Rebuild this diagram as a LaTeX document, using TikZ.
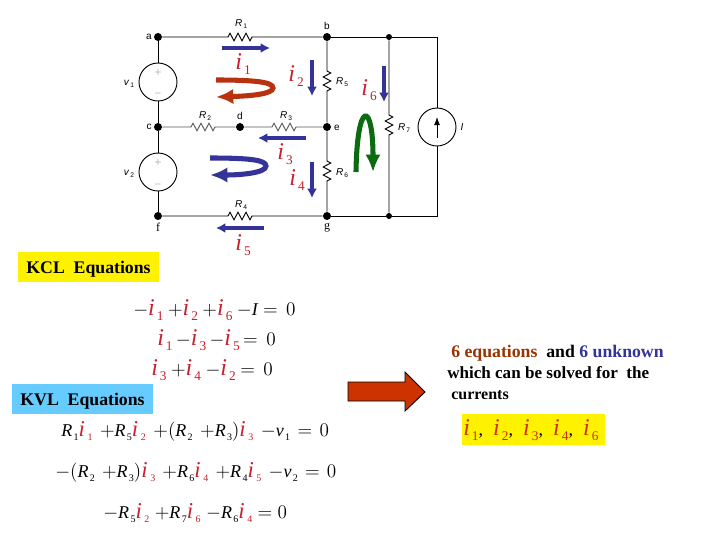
\documentclass[tikz,border=0pt]{standalone}
\usepackage{fontspec}
\setmainfont{Liberation Serif}
\setsansfont{Liberation Sans}
\usetikzlibrary{decorations.pathmorphing,arrows.meta}
\definecolor{curred}{HTML}{C8202C}
\definecolor{curblue}{HTML}{333399}
\definecolor{loopred}{HTML}{B83210}
\definecolor{loopgreen}{HTML}{0B6B10}
\definecolor{kvlblue}{HTML}{66CCFF}
\definecolor{arrowred}{HTML}{CC3300}
\definecolor{wordred}{HTML}{993300}
\tikzset{
  >=latex,
  wire/.style={line width=.7pt},
  greywire/.style={line width=.7pt,black!65},
  res/.style={decoration={zigzag,segment length=6pt,amplitude=2.8pt}},
  junction/.style={circle,fill=black,inner sep=0pt,minimum size=6pt},
  source/.style={circle,draw,line width=.7pt,fill=white,inner sep=0pt,minimum size=28.5pt},
  lab/.style={font=\sffamily\fontsize{7.5}{8}\selectfont,inner sep=0pt},
  sign/.style={font=\fontsize{6}{6}\selectfont,inner sep=0pt,black!55},
  curarrow/.style={curblue,line width=2.6pt,-{Latex[length=7pt,width=7.5pt]}},
  loopline/.style={line width=3.8pt,-{Latex[length=13pt,width=11.5pt]}},
  curlab/.style={inner sep=0pt},
  eqn/.style={font=\fontsize{13.5}{14}\selectfont,inner sep=0pt,anchor=west},
  title/.style={font=\bfseries\fontsize{13.3}{15}\selectfont,inner sep=0pt},
  titlebox/.style={title,text height=15.75pt,text depth=6.75pt,minimum width=106pt},
  para/.style={title,anchor=base west},
}
% current symbols with wide subscripts, large and KVL size
\newcommand{\cur}[1]{\textcolor{curred}{\fontsize{18}{18}\selectfont\textit{i}\kern1.5pt\raisebox{-3.5pt}{\fontsize{10}{10}\selectfont #1}}}
\newcommand{\curk}[1]{\textcolor{curred}{\fontsize{17}{17}\selectfont\textit{i}\kern2pt\raisebox{-3pt}{\fontsize{7.5}{8}\selectfont #1}}}
\newcommand{\sym}[2]{\textit{#1}\raisebox{-3pt}{\fontsize{7.5}{8}\selectfont\kern1pt #2}}
\newcommand{\lbl}[2]{\textit{#1}\raisebox{-1.5pt}{\fontsize{5}{6}\selectfont\kern.8pt #2}}
\begin{document}
\begin{tikzpicture}[x=.75pt,y=-.75pt]
    \useasboundingbox (0,0) rectangle (720,540);
    % circuit
    \node[junction] (a) at (158,37) {};
    \node[junction] (b) at (327,37) {};
    \node[junction,minimum size=4.5pt] (top) at (389,37) {};
    \coordinate (corner) at (437,37);
    \node[junction] (c) at (158,127) {};
    \node[junction] (d) at (240,127) {};
    \node[junction] (e) at (327,127) {};
    \node[junction] (f) at (158,216) {};
    \node[junction] (g) at (327,216) {};
    \node[junction,minimum size=4.5pt] (bot) at (389,216) {};
    \coordinate (cornerb) at (437,216);
    \node[source] (v1) at (158,82) {};
    \node[source] (v2) at (158,172) {};
    \node[source] (I) at (437,127) {};
    \coordinate (R1a) at (228,37); \coordinate (R1b) at (252,37);
    \coordinate (R2a) at (191,127); \coordinate (R2b) at (216,127);
    \coordinate (R3a) at (272,127); \coordinate (R3b) at (297,127);
    \coordinate (R4a) at (228,216); \coordinate (R4b) at (252,216);
    \coordinate (R5a) at (327,71); \coordinate (R5b) at (327,94);
    \coordinate (R6a) at (327,161); \coordinate (R6b) at (327,184);
    \coordinate (R7a) at (389,115); \coordinate (R7b) at (389,138);
    \draw[wire] (a) -- (R1a) decorate[res]{-- (R1b)} -- (b);
    \draw[wire] (b) -- (top) -- (corner) -- (I);
    \draw[wire] (I) -- (cornerb) -- (bot) -- (g);
    \draw[wire] (g) -- (R4b) decorate[res]{-- (R4a)} -- (f);
    \draw[wire] (a) -- (v1);
    \draw[wire] (v1) -- (c);
    \draw[wire] (c) -- (v2);
    \draw[wire] (v2) -- (f);
    \draw[greywire] (c) -- (R2a) decorate[res]{-- (R2b)} -- (d);
    \draw[greywire] (d) -- (R3a) decorate[res]{-- (R3b)} -- (e);
    \draw[wire] (b) -- (R5a) decorate[res]{-- (R5b)} -- (e);
    \draw[wire] (e) -- (R6a) decorate[res]{-- (R6b)} -- (g);
    \draw[wire] (top) -- (R7a) decorate[res]{-- (R7b)} -- (bot);
    \coordinate (Ilo) at (437,138); \coordinate (Ihi) at (437,117);
    \draw[wire,-{Latex[length=6pt,width=4.5pt]}] (Ilo) -- (Ihi);
    \node[sign] (p1) at (158,72) {$+$};
    \node[sign] (m1) at (158,93) {$-$};
    \node[sign] (p2) at (158,162) {$+$};
    \node[sign] (m2) at (158,184) {$-$};
    % circuit labels
    \node[lab] (la) at (149,37) {a};
    \node[lab] (lb) at (327,26) {b};
    \node[lab] (lc) at (149,127) {c};
    \node[lab] (ld) at (240,116) {d};
    \node[lab] (le) at (337,128) {e};
    \node[lab,font=\fontsize{9}{9}\selectfont] (lf) at (158,227) {f};
    \node[lab,font=\fontsize{9}{9}\selectfont] (lg) at (327,228) {g};
    \node[lab] (lR1) at (241,24) {\lbl{R}{1}};
    \node[lab] (lR2) at (205,116) {\lbl{R}{2}};
    \node[lab] (lR3) at (286,116) {\lbl{R}{3}};
    \node[lab] (lR4) at (241,205) {\lbl{R}{4}};
    \node[lab] (lR5) at (342,82) {\lbl{R}{5}};
    \node[lab] (lR6) at (342,173) {\lbl{R}{6}};
    \node[lab] (lR7) at (404,128) {\lbl{R}{7}};
    \node[lab] (lI) at (462,127) {\textit{I}};
    \node[lab] (lv1) at (129,84) {\lbl{v}{1}};
    \node[lab] (lv2) at (129,174) {\lbl{v}{2}};
    % currents
    \coordinate (a1s) at (222,48); \coordinate (a1e) at (270,48);
    \coordinate (a2s) at (312,60); \coordinate (a2e) at (312,96);
    \coordinate (a3s) at (306,138); \coordinate (a3e) at (258,138);
    \coordinate (a4s) at (312,162); \coordinate (a4e) at (312,198);
    \coordinate (a5s) at (264,228); \coordinate (a5e) at (216,228);
    \coordinate (a6s) at (384,66); \coordinate (a6e) at (384,102);
    \draw[curarrow] (a1s) -- (a1e);
    \draw[curarrow] (a2s) -- (a2e);
    \draw[curarrow] (a3s) -- (a3e);
    \draw[curarrow] (a4s) -- (a4e);
    \draw[curarrow] (a5s) -- (a5e);
    \draw[curarrow] (a6s) -- (a6e);
    \node[curlab] (i1) at (243,64) {\cur{1}};
    \node[curlab] (i2) at (296,76) {\cur{2}};
    \node[curlab] (i3) at (285,154) {\cur{3}};
    \node[curlab] (i4) at (297,180) {\cur{4}};
    \node[curlab] (i5) at (243,245) {\cur{5}};
    \node[curlab] (i6) at (369,90) {\cur{6}};
    % loops
    \coordinate (l1s) at (216,80); \coordinate (l1e) at (216,97);
    \coordinate (l2s) at (210,158); \coordinate (l2e) at (210,175);
    \coordinate (l3s) at (356,172); \coordinate (l3e) at (373,172);
    \draw[loopline,loopred] (l1s) .. controls (255,80) and (273,82) .. (273,88) .. controls (273,94) and (250,96) .. (l1e);
    \draw[loopline,curblue] (l2s) .. controls (250,158) and (266,160) .. (266,166) .. controls (266,173) and (240,175) .. (l2e);
    \draw[loopline,loopgreen] (l3s) .. controls (357,100) and (373,100) .. (l3e);
    % KCL
    \node[fill=yellow,titlebox] (kcl) at (88.5,267) {KCL\ \ Equations};
    \node[eqn] (e1) at (133,310) {$-$\cur{1} $+$\cur{2} $+$\cur{6} $-$\textit{I} $=\,0$};
    \node[eqn] (e2) at (157,340) {\spaceskip=2.5pt \cur{1} $-$\cur{3} $-$\cur{5} $=\,0$};
    \node[eqn] (e3) at (151,370) {\cur{3} $+$\cur{4} $-$\cur{2} $=\,0$};
    % KVL
    \node[fill=kvlblue,titlebox] (kvl) at (82.5,399) {KVL\ \ Equations};
    \node[eqn] (e4) at (61,431) {\spaceskip=5.6pt \sym{R}{1}\curk{1} $+$\sym{R}{5}\curk{2} $+(${\sym{R}{2}} $+$\sym{R}{3}$)$\curk{3} $-$\sym{v}{1} $=$ $0$};
    \node[eqn] (e5) at (55,472) {\spaceskip=5.4pt $-(${\sym{R}{2}} $+$\sym{R}{3}$)$\curk{3} $+$\sym{R}{6}\curk{4} $+$\sym{R}{4}\curk{5} $-$\sym{v}{2} $=$ $0$};
    \node[eqn] (e6) at (103,513) {\spaceskip=4pt $-$\sym{R}{5}\curk{2} $+$\sym{R}{7}\curk{6} $-$\sym{R}{6}\curk{4} $=$ $0$};
    % result
    \draw[draw=black,fill=arrowred,line width=.7pt] (348,382) -- (405,382) -- (405,372) -- (425,392) -- (405,411) -- (405,401) -- (348,401) -- cycle;
    \node[para] (w1) at (451,357) {\textcolor{wordred}{6 equations}\ \ \textcolor{black}{and} \textcolor{curblue}{6 unknown}};
    \node[para,font=\bfseries\fontsize{12.8}{15}\selectfont] (w2) at (447,378) {which can be solved for\ \ the};
    \node[para,font=\bfseries\fontsize{12}{15}\selectfont] (w3) at (451,399) {currents};
    \node[fill=yellow,minimum width=107pt,minimum height=23pt,inner sep=0pt] (ibox) at (533.5,429.5) {};
    \node[eqn] (ilist) at (463,430) {\colorlet{curred}{arrowred}\cur{1},\hspace{7.6pt}\cur{2},\hspace{7.6pt}\cur{3},\hspace{7.6pt}\cur{4},\hspace{7.6pt}\cur{6}};
\end{tikzpicture}
\end{document}
